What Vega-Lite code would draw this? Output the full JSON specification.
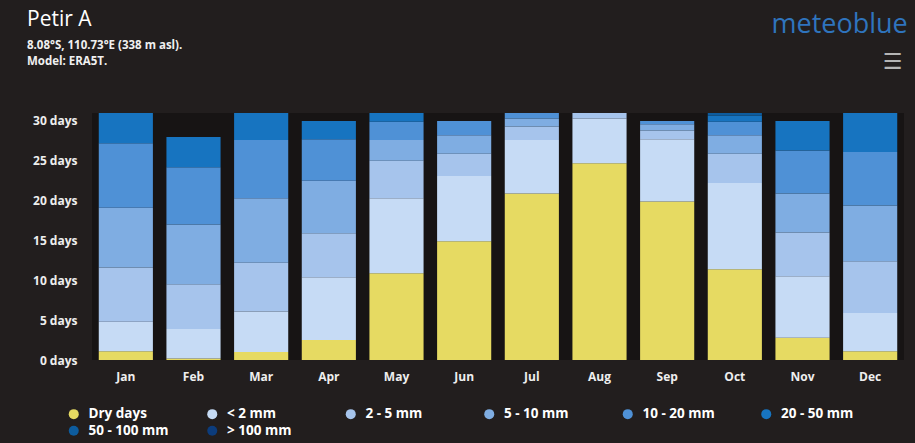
{
  "$schema": "https://vega.github.io/schema/vega-lite/v6.json",
  "width": 812,
  "height": 247,
  "autosize": "none",
  "padding": {"left": 92, "top": 113, "right": 11, "bottom": 83},
  "background": "#221e1e",
  "view": {"fill": "#171414", "stroke": null},
  "config": {"font": "Open Sans"},
  "title": {
    "text": "Petir A",
    "subtitle": ["8.08°S, 110.73°E (338 m asl).", "Model: ERA5T."],
    "anchor": "start",
    "frame": "group",
    "dx": -65,
    "offset": -57,
    "color": "#ffffff",
    "fontSize": 21,
    "fontWeight": "normal",
    "subtitleColor": "#f0f0f0",
    "subtitleFontSize": 11.5,
    "subtitleFontWeight": "bold",
    "subtitlePadding": 10,
    "subtitleLineHeight": 16
  },
  "data": {
    "values": [
      {"m": "Jan", "c": "Dry days", "d": 1.1}, {"m": "Jan", "c": "< 2 mm", "d": 3.7}, {"m": "Jan", "c": "2 - 5 mm", "d": 6.8}, {"m": "Jan", "c": "5 - 10 mm", "d": 7.5}, {"m": "Jan", "c": "10 - 20 mm", "d": 8.1}, {"m": "Jan", "c": "20 - 50 mm", "d": 3.8},
      {"m": "Feb", "c": "Dry days", "d": 0.2}, {"m": "Feb", "c": "< 2 mm", "d": 3.7}, {"m": "Feb", "c": "2 - 5 mm", "d": 5.6}, {"m": "Feb", "c": "5 - 10 mm", "d": 7.5}, {"m": "Feb", "c": "10 - 20 mm", "d": 7.2}, {"m": "Feb", "c": "20 - 50 mm", "d": 3.8},
      {"m": "Mar", "c": "Dry days", "d": 1.0}, {"m": "Mar", "c": "< 2 mm", "d": 5.1}, {"m": "Mar", "c": "2 - 5 mm", "d": 6.1}, {"m": "Mar", "c": "5 - 10 mm", "d": 8.1}, {"m": "Mar", "c": "10 - 20 mm", "d": 7.3}, {"m": "Mar", "c": "20 - 50 mm", "d": 3.4},
      {"m": "Apr", "c": "Dry days", "d": 2.5}, {"m": "Apr", "c": "< 2 mm", "d": 7.9}, {"m": "Apr", "c": "2 - 5 mm", "d": 5.5}, {"m": "Apr", "c": "5 - 10 mm", "d": 6.6}, {"m": "Apr", "c": "10 - 20 mm", "d": 5.2}, {"m": "Apr", "c": "20 - 50 mm", "d": 2.3},
      {"m": "May", "c": "Dry days", "d": 10.9}, {"m": "May", "c": "< 2 mm", "d": 9.4}, {"m": "May", "c": "2 - 5 mm", "d": 4.7}, {"m": "May", "c": "5 - 10 mm", "d": 2.6}, {"m": "May", "c": "10 - 20 mm", "d": 2.3}, {"m": "May", "c": "20 - 50 mm", "d": 1.1},
      {"m": "Jun", "c": "Dry days", "d": 14.9}, {"m": "Jun", "c": "< 2 mm", "d": 8.2}, {"m": "Jun", "c": "2 - 5 mm", "d": 2.8}, {"m": "Jun", "c": "5 - 10 mm", "d": 2.3}, {"m": "Jun", "c": "10 - 20 mm", "d": 1.8},
      {"m": "Jul", "c": "Dry days", "d": 20.9}, {"m": "Jul", "c": "< 2 mm", "d": 6.7}, {"m": "Jul", "c": "2 - 5 mm", "d": 1.7}, {"m": "Jul", "c": "5 - 10 mm", "d": 1.0}, {"m": "Jul", "c": "10 - 20 mm", "d": 0.7},
      {"m": "Aug", "c": "Dry days", "d": 24.7}, {"m": "Aug", "c": "< 2 mm", "d": 5.6}, {"m": "Aug", "c": "2 - 5 mm", "d": 0.7},
      {"m": "Sep", "c": "Dry days", "d": 19.9}, {"m": "Sep", "c": "< 2 mm", "d": 7.8}, {"m": "Sep", "c": "2 - 5 mm", "d": 1.1}, {"m": "Sep", "c": "5 - 10 mm", "d": 0.8}, {"m": "Sep", "c": "10 - 20 mm", "d": 0.4},
      {"m": "Oct", "c": "Dry days", "d": 11.4}, {"m": "Oct", "c": "< 2 mm", "d": 10.8}, {"m": "Oct", "c": "2 - 5 mm", "d": 3.7}, {"m": "Oct", "c": "5 - 10 mm", "d": 2.3}, {"m": "Oct", "c": "10 - 20 mm", "d": 1.7}, {"m": "Oct", "c": "20 - 50 mm", "d": 0.8}, {"m": "Oct", "c": "50 - 100 mm", "d": 0.3},
      {"m": "Nov", "c": "Dry days", "d": 2.8}, {"m": "Nov", "c": "< 2 mm", "d": 7.7}, {"m": "Nov", "c": "2 - 5 mm", "d": 5.5}, {"m": "Nov", "c": "5 - 10 mm", "d": 4.9}, {"m": "Nov", "c": "10 - 20 mm", "d": 5.4}, {"m": "Nov", "c": "20 - 50 mm", "d": 3.7},
      {"m": "Dec", "c": "Dry days", "d": 1.1}, {"m": "Dec", "c": "< 2 mm", "d": 4.8}, {"m": "Dec", "c": "2 - 5 mm", "d": 6.5}, {"m": "Dec", "c": "5 - 10 mm", "d": 7.0}, {"m": "Dec", "c": "10 - 20 mm", "d": 6.7}, {"m": "Dec", "c": "20 - 50 mm", "d": 4.9}
    ]
  },
  "transform": [
    {"calculate": "indexof(['Dry days', '< 2 mm', '2 - 5 mm', '5 - 10 mm', '10 - 20 mm', '20 - 50 mm', '50 - 100 mm', '> 100 mm'], datum.c)", "as": "rank"}
  ],
  "mark": {"type": "bar"},
  "encoding": {
    "x": {
      "field": "m",
      "type": "ordinal",
      "sort": ["Jan", "Feb", "Mar", "Apr", "May", "Jun", "Jul", "Aug", "Sep", "Oct", "Nov", "Dec"],
      "scale": {"paddingInner": 0.2, "paddingOuter": 0.1},
      "axis": {
        "labelAngle": 0,
        "labelColor": "#eeeeee",
        "labelFontSize": 12,
        "labelFontWeight": "bold",
        "labelPadding": 11,
        "domain": false,
        "ticks": false,
        "title": "☰",
        "titleFont": "DejaVu Sans",
        "titleFontSize": 22,
        "titleFontWeight": "normal",
        "titleColor": "#b5b5b5",
        "titleAlign": "center",
        "titleBaseline": "middle",
        "titleAngle": 0,
        "titleX": 800,
        "titleY": -299
      }
    },
    "y": {
      "field": "d",
      "type": "quantitative",
      "stack": "zero",
      "scale": {"domain": [0, 31], "nice": false},
      "axis": {
        "values": [0, 5, 10, 15, 20, 25, 30],
        "labelExpr": "datum.value + ' days'",
        "labelColor": "#eeeeee",
        "labelFontSize": 12,
        "labelFontWeight": "bold",
        "labelPadding": 15,
        "domain": false,
        "ticks": false,
        "grid": false,
        "title": "meteoblue",
        "titleFontSize": 27,
        "titleFontWeight": "normal",
        "titleColor": "#2f74bd",
        "titleAngle": 0,
        "titleAlign": "left",
        "titleBaseline": "middle",
        "titleX": 679,
        "titleY": -89
      }
    },
    "color": {
      "field": "c",
      "type": "nominal",
      "scale": {
        "domain": ["Dry days", "< 2 mm", "2 - 5 mm", "5 - 10 mm", "10 - 20 mm", "20 - 50 mm", "50 - 100 mm", "> 100 mm"],
        "range": ["#e6da62", "#c6dbf5", "#a6c4ec", "#7fade2", "#4f91d6", "#1774c0", "#0d5c9e", "#0c3c7c"]
      },
      "legend": {
        "orient": "none",
        "legendX": -25,
        "legendY": 294,
        "direction": "horizontal",
        "columns": 6,
        "gridAlign": "all",
        "columnPadding": 36.5,
        "rowPadding": 2,
        "title": null,
        "symbolType": "circle",
        "symbolSize": 100,
        "symbolStrokeWidth": 0,
        "labelColor": "#ffffff",
        "labelFontSize": 13.5,
        "labelFontWeight": "bold",
        "labelOffset": 8
      }
    },
    "order": {"field": "rank", "type": "quantitative"}
  }
}
